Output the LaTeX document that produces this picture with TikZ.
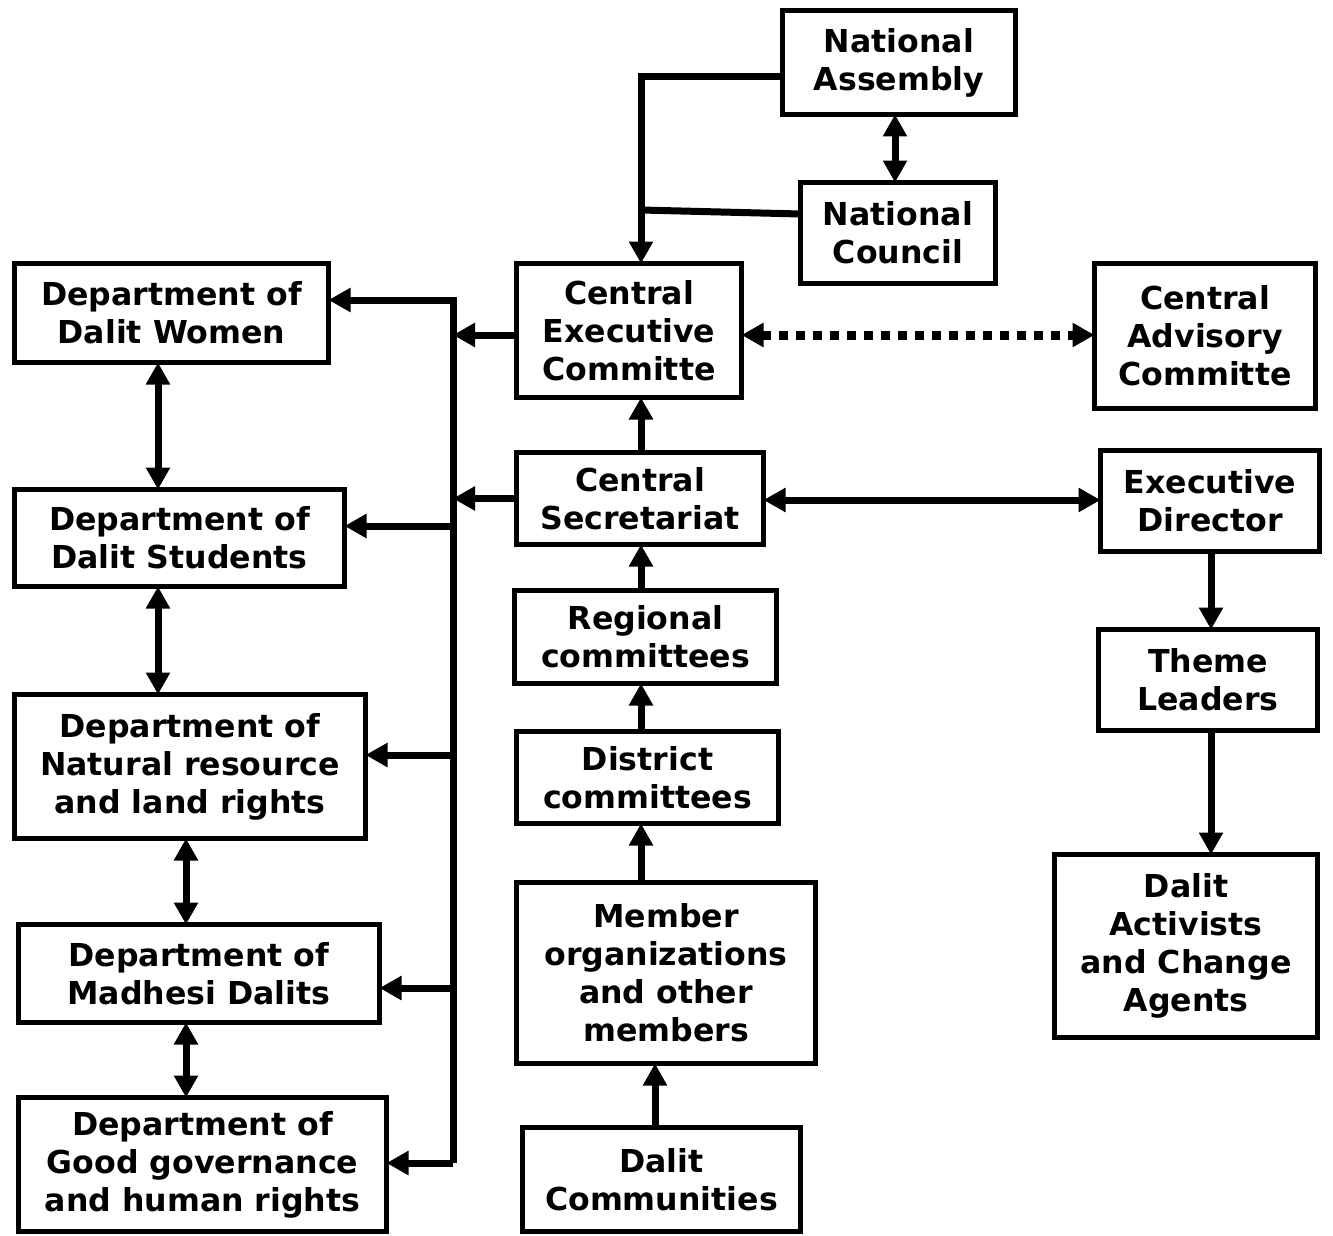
\documentclass[tikz,border=0pt]{standalone}
\usepackage{fontspec}
\setmainfont{DejaVu Sans}
\usetikzlibrary{arrows.meta}
\tikzset{
  box/.style={draw, line width=5pt, inner sep=0pt, outer sep=0pt, align=center,
    font=\bfseries\fontsize{31.6}{38}\selectfont},
  conn/.style={line width=7pt, line join=miter},
  arr/.style={conn, -{Triangle[length=22pt,width=23pt]}},
  darr/.style={conn, {Triangle[length=22pt,width=23pt]}-{Triangle[length=22pt,width=23pt]}},
  dotarr/.style={line width=9pt, dash pattern=on 9pt off 8pt,
    {Triangle[length=22pt,width=23pt]}-{Triangle[length=22pt,width=23pt]}}
}
\begin{document}
\begin{tikzpicture}[x=1pt,y=-1pt]
\useasboundingbox (0,0) rectangle (1333,1236);
% nodes
\node[box, minimum width=233pt, minimum height=104pt] (NA) at (899,62.5) {National\\Assembly};
\node[box, minimum width=195pt, minimum height=101pt] (NC) at (898,233) {National\\Council};
\node[box, minimum width=225pt, minimum height=134pt] (CEC) at (629,330.5) {Central\\Executive\\Committe};
\node[box, minimum width=221pt, minimum height=145pt] (CAC) at (1205,336) {Central\\Advisory\\Committe};
\node[box, minimum width=314pt, minimum height=99pt] (DW) at (171.5,313) {Department of\\Dalit Women};
\node[box, minimum width=330pt, minimum height=97pt] (DS) at (179.5,538) {Department of\\Dalit Students};
\node[box, minimum width=351pt, minimum height=144pt] (NR) at (190,766.5) {Department of\\Natural resource\\and land rights};
\node[box, minimum width=361pt, minimum height=98pt] (MD) at (199,973.5) {Department of\\Madhesi Dalits};
\node[box, minimum width=368pt, minimum height=134pt] (GG) at (202.5,1164.5) {Department of\\Good governance\\and human rights};
\node[box, minimum width=247pt, minimum height=92pt] (CS) at (640,498.5) {Central\\Secretariat};
\node[box, minimum width=262pt, minimum height=93pt] (RC) at (645.5,637) {Regional\\committees};
\node[box, minimum width=262pt, minimum height=92pt] (DC) at (647.5,777.5) {District\\committees};
\node[box, minimum width=299pt, minimum height=181pt] (MO) at (666,973) {Member\\organizations\\and other\\members};
\node[box, minimum width=278pt, minimum height=104pt] (DCom) at (661.5,1179.5) {Dalit\\Communities};
\node[box, minimum width=219pt, minimum height=101pt] (ED) at (1210,501) {Executive\\Director};
\node[box, minimum width=219pt, minimum height=101pt] (TL) at (1208,680) {Theme\\Leaders};
\node[box, minimum width=263pt, minimum height=183pt] (DA) at (1186,946) {Dalit\\Activists\\and Change\\Agents};
% coordinates
\coordinate (j) at (641,210);
\coordinate (bt) at (453,300);
\coordinate (b1) at (453,526);
\coordinate (b2) at (453,755);
\coordinate (b3) at (453,988);
\coordinate (bb) at (453,1163);
% top connectors
\draw[arr] ([yshift=-14.5pt]NA.west) -| ([xshift=12pt]CEC.north);
\draw[conn] ([yshift=19pt]NC.west) -- (j);
\draw[darr] ([xshift=-4pt]NA.south) -- ([xshift=-4pt]NA.south |- NC.north);
% central chain
\draw[arr] (CS.north -| j) -- (CEC.south -| j);
\draw[arr] (RC.north -| j) -- (CS.south -| j);
\draw[arr] (DC.north -| j) -- (RC.south -| j);
\draw[arr] (MO.north -| j) -- (DC.south -| j);
\draw[arr] ([xshift=-6.5pt]DCom.north) -- ([xshift=-6.5pt]DCom.north |- MO.south);
% horizontal links
\draw[dotarr] ([yshift=-4.5pt]CEC.east) -- ([yshift=-4.5pt]CEC.east -| CAC.west);
\draw[darr] ([yshift=-1.5pt]CS.east) -- ([yshift=-1.5pt]CS.east -| ED.west);
% right chain
\draw[arr] ([xshift=1pt]ED.south) -- ([xshift=1pt]ED.south |- TL.north);
\draw[arr] ([xshift=1pt]ED.south |- TL.south) -- ([xshift=1pt]ED.south |- DA.north);
% bus
\draw[arr] ([yshift=-4.5pt]CEC.west) -- ([yshift=-4.5pt]CEC.west -| bt);
\draw[arr] (CS.west) -- (CS.west -| bt);
\draw[arr] (bb) -- (bt) -- (bt -| DW.east);
\draw[arr] (b1) -- (b1 -| DS.east);
\draw[arr] (b2) -- (b2 -| NR.east);
\draw[arr] (b3) -- (b3 -| MD.east);
\draw[arr] (bb) -- (bb -| GG.east);
% department links
\draw[darr] ([xshift=-13.5pt]DW.south) -- ([xshift=-13.5pt]DW.south |- DS.north);
\draw[darr] ([xshift=-21.5pt]DS.south) -- ([xshift=-21.5pt]DS.south |- NR.north);
\draw[darr] ([xshift=-4pt]NR.south) -- ([xshift=-4pt]NR.south |- MD.north);
\draw[darr] ([xshift=-13pt]MD.south) -- ([xshift=-13pt]MD.south |- GG.north);
\end{tikzpicture}
\end{document}
